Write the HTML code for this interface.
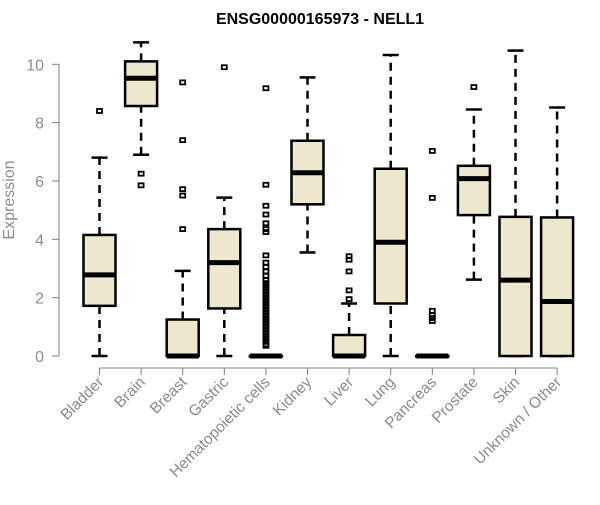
<!DOCTYPE html>
<html><head><meta charset="utf-8"><style>
body{margin:0;background:#fff;width:600px;height:500px;overflow:hidden}
svg text{font-family:"Liberation Sans",Arial,sans-serif}
</style></head><body>
<svg id="c" width="600" height="500"></svg>
<script>
const categories=["Bladder","Brain","Breast","Gastric","Hematopoietic cells","Kidney","Liver","Lung","Pancreas","Prostate","Skin","Unknown / Other"];
const whiskerLow=[0,6.9,0,0,0,3.55,0,0,0,2.62,0,0];
const q1=[1.72,8.57,0,1.63,0,5.2,0,1.8,0,4.83,0,0];
const medians=[2.78,9.52,0,3.2,0,6.28,0,3.9,0,6.08,2.6,1.87];
const q3=[4.15,10.1,1.25,4.35,0,7.38,0.72,6.42,0,6.52,4.77,4.75];
const whiskerHigh=[6.8,10.75,2.92,5.43,0,9.55,1.8,10.32,0,8.45,10.47,8.52];
const outliers=[[8.4],[6.25,5.85],[9.38,7.4,5.72,5.5,4.35],[9.9],
[9.18,5.87,5.15,4.85,4.55,4.35,4.25,3.45,3.2,3.05,2.9,2.75,2.6,2.5,2.4,2.3,2.2,2.1,2.0,1.9,1.8,1.7,1.6,1.5,1.4,1.3,1.2,1.1,1.0,0.9,0.8,0.7,0.6,0.5,0.4,0.35],
[],[3.42,3.3,2.9,2.25,1.95],[],[7.03,5.42,1.55,1.4,1.3,1.2],[9.22],[],[]];
const yTicks=[0,2,4,6,8,10];
const NS="http://www.w3.org/2000/svg",svg=document.getElementById("c");
const y=v=>356-v*29.17, x=i=>99.5+i*41.6;
function mk(t,a,p){const e=document.createElementNS(NS,t);for(const k in a)e.setAttribute(k,a[k]);(p||svg).appendChild(e);return e;}
let t=mk("text",{x:320,y:24,"text-anchor":"middle","font-size":"16","font-weight":"bold",fill:"#000"});t.textContent="ENSG00000165973 - NELL1";


let yt=mk("text",{x:0,y:0,transform:"translate(14,200) rotate(-90)","text-anchor":"middle","font-size":"16",fill:"#8c8c8c"});yt.textContent="Expression";


let ax=mk("line",{x1:59,x2:59,y1:y(0),y2:y(10),stroke:"#808080"});


yTicks.forEach(v=>{mk("line",{x1:52,x2:59,y1:y(v),y2:y(v),stroke:"#808080"});
let l=mk("text",{x:44,y:y(v)+6,"text-anchor":"end","font-size":"16",fill:"#8c8c8c"});l.textContent=v;

});
let xa=mk("line",{x1:x(0),x2:x(categories.length-1),y1:368,y2:368,stroke:"#808080"});


categories.forEach((c,i)=>{const cx=x(i);
mk("line",{x1:cx,x2:cx,y1:368,y2:375,stroke:"#808080"});
let l=mk("text",{x:0,y:0,transform:`translate(${cx+5},${383}) rotate(-45)`,"text-anchor":"end","font-size":"15.5",fill:"#8a8a8a"});l.textContent=c;


const g=mk("g",{});


mk("line",{x1:cx,x2:cx,y1:y(whiskerLow[i]),y2:y(q1[i]),stroke:"#000","stroke-width":2.5,"stroke-dasharray":"8,6"},g);
mk("line",{x1:cx,x2:cx,y1:y(q3[i]),y2:y(whiskerHigh[i]),stroke:"#000","stroke-width":2.5,"stroke-dasharray":"8,6"},g);
mk("line",{x1:cx-8,x2:cx+8,y1:y(whiskerLow[i]),y2:y(whiskerLow[i]),stroke:"#000","stroke-width":2.5},g);
mk("line",{x1:cx-8,x2:cx+8,y1:y(whiskerHigh[i]),y2:y(whiskerHigh[i]),stroke:"#000","stroke-width":2.5},g);
mk("rect",{x:cx-16,y:y(q3[i]),width:32,height:Math.max(y(q1[i])-y(q3[i]),0.5),fill:"#ede7cd",stroke:"#000","stroke-width":2.5},g);
mk("line",{x1:cx-16,x2:cx+16,y1:y(medians[i]),y2:y(medians[i]),stroke:"#000","stroke-width":5},g);
outliers[i].forEach(v=>mk("rect",{x:cx-2.5,y:y(v)-2,width:5,height:4,fill:"none",stroke:"#000","stroke-width":1.8},g));
});
</script>
</body></html>
